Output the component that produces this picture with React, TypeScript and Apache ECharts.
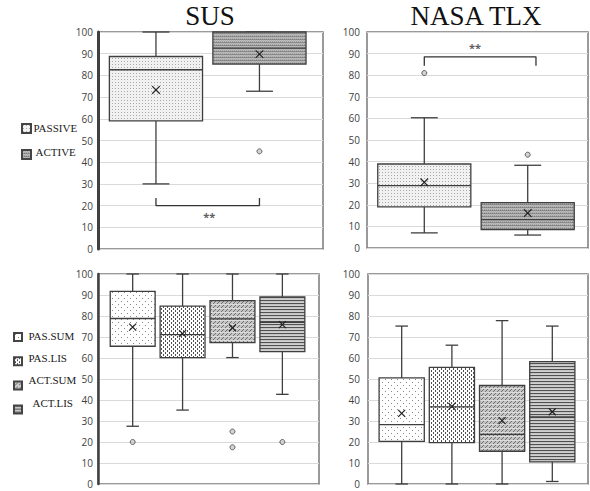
import React, { useEffect, useRef } from 'react';
import * as echarts from 'echarts';

// ---- data ----
const topGroups = ['PASSIVE', 'ACTIVE'];
const bottomGroups = ['PAS.SUM', 'PAS.LIS', 'ACT.SUM', 'ACT.LIS'];
const titles = ['SUS', 'NASA TLX'];
// each row: [min, Q1, median, Q3, max, mean]
const susTop = [
  [30, 59, 82.6, 88.7, 100, 73.3],
  [72.7, 85.2, 92.6, 100, 100, 89.8],
];
const tlxTop = [
  [7, 19, 28.9, 38.9, 60.3, 30.4],
  [6, 8.5, 13.1, 21, 38.3, 16.2],
];
const susBottom = [
  [27.5, 65.6, 78.8, 91.7, 100, 74.7],
  [35.2, 60.2, 71.1, 84.7, 100, 71.6],
  [60.2, 67.3, 78.6, 87.3, 100, 74.4],
  [42.7, 63, 77, 89.1, 100, 75.9],
];
const tlxBottom = [
  [0, 20.3, 28.3, 50.5, 75.2, 33.6],
  [0, 19.7, 36.7, 55.5, 66.1, 37],
  [0, 15.6, 23.6, 46.9, 77.8, 30.2],
  [1.2, 10.5, 32, 58.3, 75.2, 34.4],
];
// outliers: [group index, value]
const susTopOutliers = [[1, 45]];
const tlxTopOutliers = [[0, 81], [1, 43.2]];
const susBottomOutliers = [[0, 20], [2, 25], [2, 17.5], [3, 20]];
const tlxBottomOutliers: number[][] = [];
// significance brackets
const susBracket = [[0, 23.5], [0, 20], [1, 20], [1, 23.5]];
const tlxBracket = [[0, 84.4], [0, 88.5], [1.08, 88.5], [1.08, 84.4]];
const susStar = [[0.515, 15]];
const tlxStar = [[0.49, 92.6]];
const yMin = 0;
const yMax = 100;
const yStep = 10;

const SERIF = 'Liberation Serif';

function tile(w: number, h: number, bg: string, pix: [number, number, string][]) {
  const cv = document.createElement('canvas');
  cv.width = w;
  cv.height = h;
  const ctx = cv.getContext('2d')!;
  ctx.fillStyle = bg;
  ctx.fillRect(0, 0, w, h);
  for (const [x, y, c] of pix) {
    ctx.fillStyle = c;
    ctx.fillRect(x, y, 1, 1);
  }
  return { image: cv.toDataURL(), repeat: 'repeat', imageWidth: w, imageHeight: h } as any;
}

function makePatterns() {
  const d = '#505050';
  return {
    PASSIVE: tile(3, 3, '#f1f1f1', [[1, 1, '#a9a9a9']]),
    ACTIVE: tile(2, 3, '#b4b4b4', [
      [0, 0, '#7c7c7c'], [1, 0, '#939393'],
      [0, 1, '#bdbdbd'], [1, 1, '#b0b0b0'],
      [0, 2, '#a2a2a2'], [1, 2, '#bcbcbc'],
    ]),
    'PAS.SUM': tile(6, 6, '#ffffff', [[1, 1, '#8a8a8a'], [4, 4, '#8a8a8a']]),
    'PAS.LIS': tile(4, 4, '#ffffff', [[1, 0, d], [1, 1, d], [3, 2, d], [3, 3, d]]),
    'ACT.SUM': tile(4, 4, '#c4c4c4', [
      [0, 0, '#dcdcdc'], [1, 0, '#dcdcdc'], [2, 0, '#dcdcdc'], [3, 0, '#dcdcdc'],
      [3, 1, '#707070'], [2, 2, '#707070'], [1, 3, '#707070'],
    ]),
    'ACT.LIS': tile(1, 3, '#c4c4c4', [[0, 0, '#505050'], [0, 2, '#d0d0d0']]),
  } as Record<string, any>;
}

function makeRender(fill: any, boxW: number, capW: number, xs: number) {
  return (params: any, api: any) => {
    const x = api.value(0) as number;
    const v = (i: number) => api.value(i) as number;
    const mn = v(1), q1 = v(2), md = v(3), q3 = v(4), mx = v(5), mean = v(6);
    const c = (xx: number, yy: number) => api.coord([xx, yy]);
    const pTop = c(x, mx), pQ3 = c(x, q3), pQ1 = c(x, q1), pBot = c(x, mn);
    const xl = c(x - boxW / 2, md)[0], xr = c(x + boxW / 2, md)[0];
    const cl = c(x - capW / 2, md)[0], cr = c(x + capW / 2, md)[0];
    const yMed = c(x, md)[1];
    const pm = c(x, mean);
    const ls = { stroke: '#3f3f3f', lineWidth: 1.3 };
    return {
      type: 'group',
      children: [
        { type: 'line', shape: { x1: pTop[0], y1: pTop[1], x2: pQ3[0], y2: pQ3[1] }, style: ls },
        { type: 'line', shape: { x1: pQ1[0], y1: pQ1[1], x2: pBot[0], y2: pBot[1] }, style: ls },
        { type: 'line', shape: { x1: cl, y1: pTop[1], x2: cr, y2: pTop[1] }, style: ls },
        { type: 'line', shape: { x1: cl, y1: pBot[1], x2: cr, y2: pBot[1] }, style: ls },
        {
          type: 'rect',
          shape: { x: xl, y: pQ3[1], width: xr - xl, height: pQ1[1] - pQ3[1] },
          style: { fill, stroke: '#3f3f3f', lineWidth: 1.3 },
        },
        { type: 'line', shape: { x1: xl, y1: yMed, x2: xr, y2: yMed }, style: ls },
        { type: 'line', shape: { x1: pm[0] - xs, y1: pm[1] - xs, x2: pm[0] + xs, y2: pm[1] + xs }, style: { stroke: '#222', lineWidth: 1.2 } },
        { type: 'line', shape: { x1: pm[0] - xs, y1: pm[1] + xs, x2: pm[0] + xs, y2: pm[1] - xs }, style: { stroke: '#222', lineWidth: 1.2 } },
      ],
    };
  };
}

const grids = [
  { left: 98, top: 32, width: 225, height: 217, xMin: -0.56, xMax: 1.614, labelMargin: 5, axisW: 3 },
  { left: 367, top: 32, width: 221, height: 216, xMin: -0.554, xMax: 1.583, labelMargin: 7, axisW: 0 },
  { left: 98, top: 274, width: 221, height: 210, xMin: -0.695, xMax: 3.734, labelMargin: 5, axisW: 2.5 },
  { left: 368, top: 274, width: 220, height: 210, xMin: -0.671, xMax: 3.711, labelMargin: 8, axisW: 0 },
];

// legend layout (text labels beside the legend icons)
const legendLayouts = [
  { names: topGroups, iconLeft: 21, iconTop: 123, icon: 9, step: 24, textX: [33.5, 35.5] },
  { names: bottomGroups, iconLeft: 13, iconTop: 332, icon: 8, step: 22.2, textX: [28.5, 28.5, 28.5, 32.5] },
];

export default function App() {
  const ref = useRef<HTMLDivElement>(null);
  useEffect(() => {
    if (!ref.current) return;
    const chart = echarts.init(ref.current, undefined, { renderer: 'svg' });
    const pats = makePatterns();
    const series: any[] = [];

    const addBoxes = (groups: string[], rows: number[][], gi: number, boxW: number, capW: number, xs: number) => {
      groups.forEach((g, i) => {
        series.push({
          type: 'custom',
          name: g,
          xAxisIndex: gi,
          yAxisIndex: gi,
          itemStyle: { color: pats[g], borderColor: '#444', borderWidth: 1 },
          renderItem: makeRender(pats[g], boxW, capW, xs),
          data: [[i, ...rows[i]]],
          z: 3,
        });
      });
    };
    addBoxes(topGroups, susTop, 0, 0.9, 0.26, 3.8);
    addBoxes(topGroups, tlxTop, 1, 0.9, 0.26, 3.8);
    addBoxes(bottomGroups, susBottom, 2, 0.9, 0.25, 3.5);
    addBoxes(bottomGroups, tlxBottom, 3, 0.9, 0.25, 3.5);

    const outl = [susTopOutliers, tlxTopOutliers, susBottomOutliers, tlxBottomOutliers];
    outl.forEach((o, gi) => {
      if (!o.length) return;
      series.push({
        type: 'scatter',
        xAxisIndex: gi,
        yAxisIndex: gi,
        symbol: 'circle',
        symbolSize: 5,
        itemStyle: { color: '#c8c8c8', borderColor: '#444', borderWidth: 1 },
        data: o,
        z: 4,
      });
    });
    [[susBracket, 0], [tlxBracket, 1]].forEach(([d, gi]: any) => {
      series.push({
        type: 'line',
        xAxisIndex: gi,
        yAxisIndex: gi,
        data: d,
        symbol: 'none',
        lineStyle: { color: '#333', width: 1.3 },
        z: 4,
      });
    });
    [[susStar, 0], [tlxStar, 1]].forEach(([d, gi]: any) => {
      series.push({
        type: 'scatter',
        xAxisIndex: gi,
        yAxisIndex: gi,
        data: d,
        symbolSize: 1,
        itemStyle: { color: 'rgba(0,0,0,0)' },
        label: {
          show: true,
          position: 'inside',
          formatter: '**',
          fontSize: 11,
          fontWeight: 'bold',
          color: '#333',
          fontFamily: 'Open Sans',
        },
        z: 5,
      });
    });

    const legendTexts: any[] = [];
    legendLayouts.forEach((L) => {
      L.names.forEach((n, i) => {
        legendTexts.push({
          type: 'text',
          x: L.textX[i],
          y: L.iconTop + L.icon / 2 + i * L.step,
          style: {
            text: n,
            font: `11px "${SERIF}"`,
            fill: '#1a1a1a',
            verticalAlign: 'middle',
            align: 'left',
          },
        });
      });
    });

    const option: any = {
      animation: false,
      backgroundColor: '#ffffff',
      title: [
        { text: titles[0], left: 210, top: 2, textAlign: 'center', padding: 0 },
        { text: titles[1], left: 476, top: 2, textAlign: 'center', padding: 0 },
      ].map((t) => ({
        ...t,
        textStyle: { fontFamily: SERIF, fontSize: 27, fontWeight: 'normal', color: '#111' },
      })),
      legend: legendLayouts.map((L) => ({
        data: L.names,
        orient: 'vertical',
        left: L.iconLeft,
        top: L.iconTop,
        padding: 0,
        itemGap: L.step - L.icon,
        itemWidth: L.icon,
        itemHeight: L.icon,
        icon: 'rect',
        selectedMode: false,
        formatter: () => '',
      })),
      graphic: legendTexts,
      grid: grids.map((g) => ({
        left: g.left,
        top: g.top,
        width: g.width,
        height: g.height,
        show: true,
        borderColor: '#7a7a7a',
        borderWidth: 1.5,
        backgroundColor: 'transparent',
      })),
      xAxis: grids.map((g, i) => ({
        type: 'value',
        gridIndex: i,
        min: g.xMin,
        max: g.xMax,
        show: false,
        splitLine: { show: false },
      })),
      yAxis: grids.map((g, i) => ({
        type: 'value',
        gridIndex: i,
        min: yMin,
        max: yMax,
        interval: yStep,
        axisLine: { show: g.axisW > 0, onZero: false, lineStyle: { color: '#404040', width: g.axisW } },
        axisTick: { show: false },
        axisLabel: { fontSize: 10, color: '#3f3f3f', fontFamily: 'Open Sans', margin: g.labelMargin },
        splitLine: { lineStyle: { color: '#dadada', width: 1 } },
      })),
      series,
    };
    chart.setOption(option);
    return () => chart.dispose();
  }, []);
  return (
    <div
      ref={ref}
      style={{ position: 'absolute', left: 0, top: 0, width: 590, height: 491, background: '#fff' }}
    />
  );
}
